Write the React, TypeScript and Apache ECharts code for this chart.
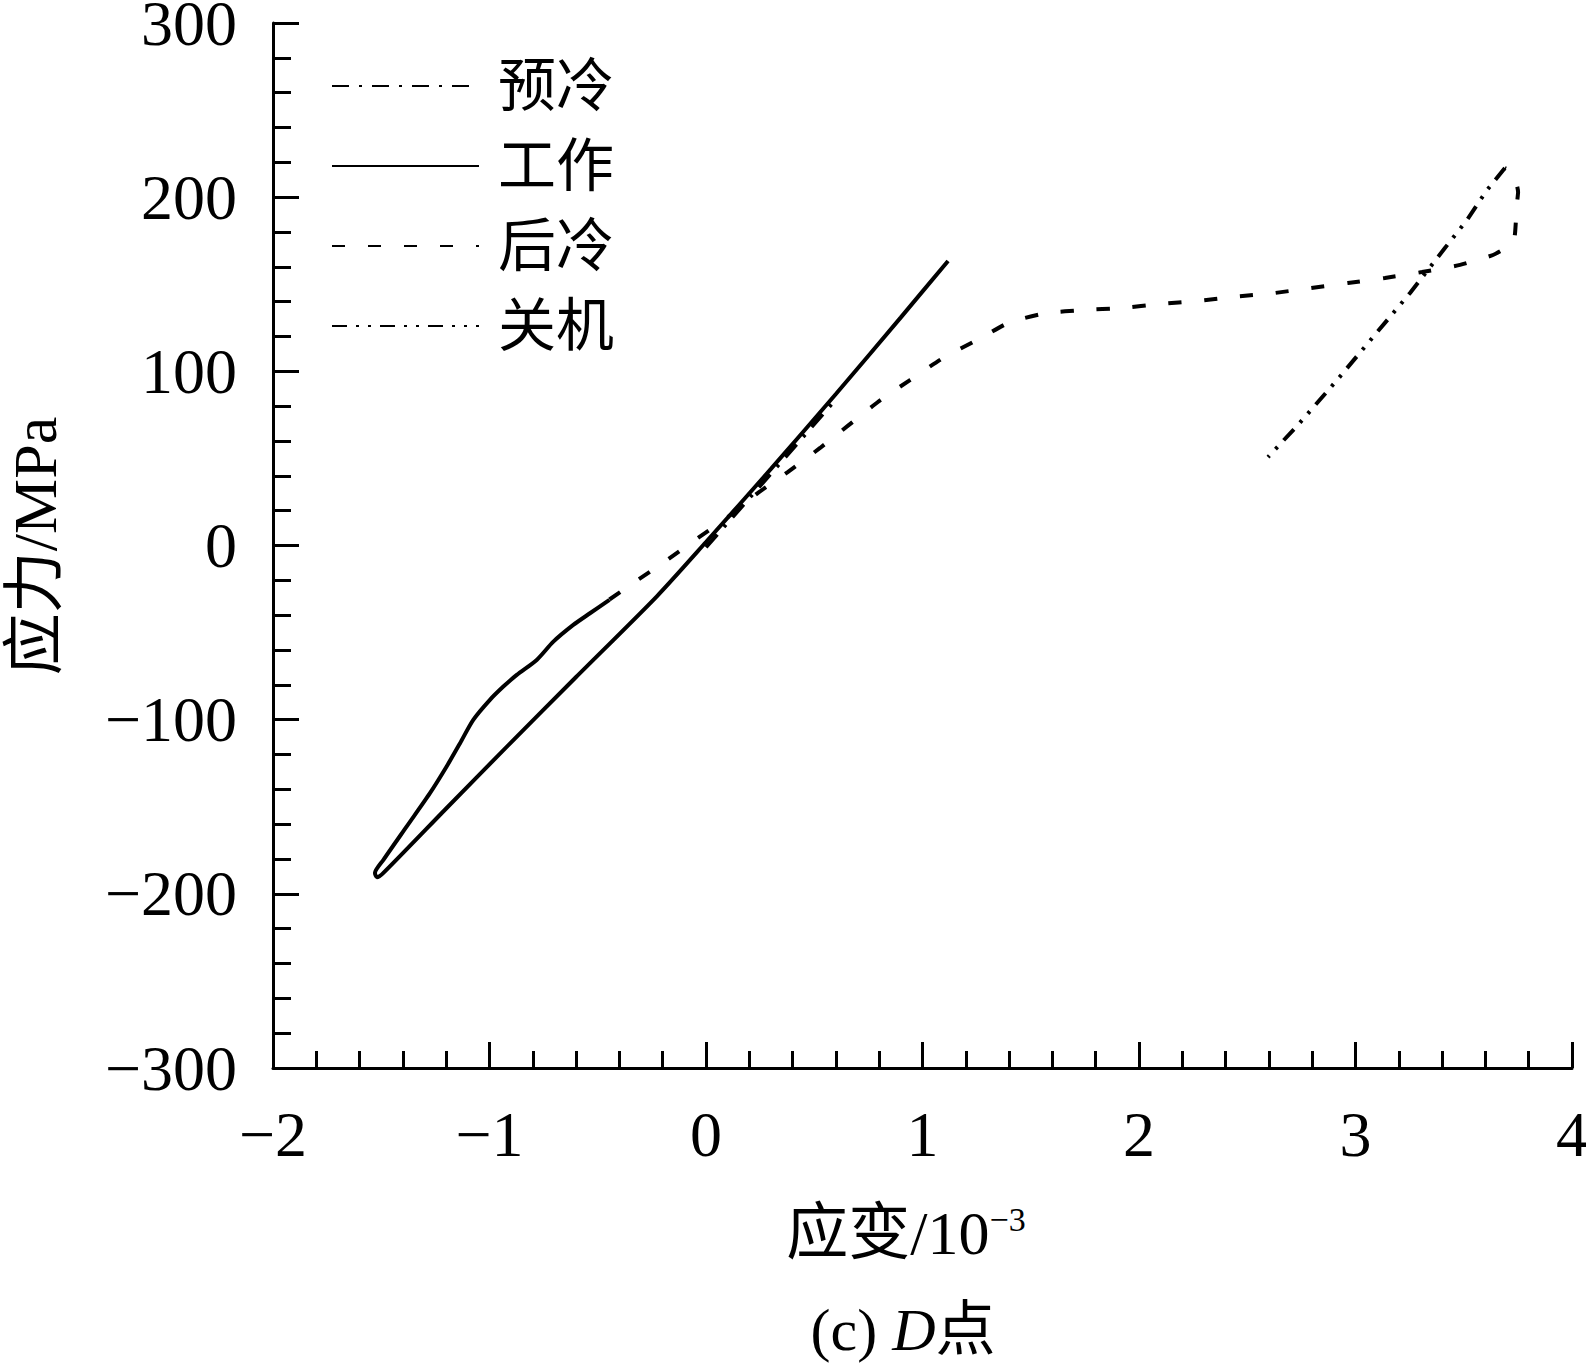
import React, { useEffect, useRef } from "react";
import * as echarts from "echarts";

// ---- data ----
const seriesNames = ["预冷", "工作", "后冷", "关机"];

const xTicks = { min: -2, max: 4, interval: 1 };
const yTicks = { min: -300, max: 300, interval: 100 };

// 预冷 (pre-cooling)
const preX = [0.0, 0.34, 0.6];
const preY = [-1, 47, 84];

// 工作 (working)
const workX = [
  -0.446, -0.536, -0.613, -0.705, -0.782, -0.874, -0.936, -0.998, -1.075, -1.136,
  -1.198, -1.275, -1.383, -1.49, -1.529, -1.52, -1.49, -1.2, -0.9, -0.6,
  -0.228, 0.0, 0.3, 0.6, 0.9, 1.118,
];
const workY = [
  -31.2, -38.9, -45.6, -55.2, -65.7, -74.3, -81.0, -88.6, -100.1, -113.5,
  -126.9, -142.2, -161.4, -180.5, -188.1, -190.5, -188, -151, -113, -75.5,
  -29.3, 2, 44, 87, 131, 163.4,
];

// 后冷 (post-cooling)
const postX = [
  -0.446, -0.328, -0.18, -0.037, 0.102, 0.24, 0.379, 0.527, 0.794, 0.942,
  1.095, 1.252, 1.404, 1.575, 1.741, 1.921, 2.097, 2.268, 2.434, 2.628,
  2.79, 2.965, 3.136, 3.307, 3.483, 3.635, 3.728, 3.737, 3.746, 3.751,
  3.728, 3.69,
];
const postY = [
  -31, -20.9, -8.3, 4.4, 16.4, 30.2, 42.3, 56, 82.4, 95,
  107.7, 118, 128.3, 133.5, 135.2, 136.3, 138.7, 140.4, 142.7, 145,
  147.8, 150.7, 153.6, 157, 161.1, 166.8, 173.7, 179.4, 196.6, 203,
  214.4, 216.7,
];

// 关机 (shutdown)
const offX = [3.69, 3.607, 3.515, 3.413, 3.252, 3.081, 2.915, 2.734, 2.596];
const offY = [216.7, 204, 186.9, 170.8, 145, 119.7, 95, 69.2, 50.8];

// ---- helpers ----
const zip = (xs: number[], ys: number[]) => xs.map((x, i) => [x, ys[i]]);
const fmt = (v: number) => (v < 0 ? "\u2212" + Math.abs(v) : String(v));

const SERIF = '"Liberation Serif", "Times New Roman", "Noto Sans CJK SC", serif';

const dashes: any[] = [
  [17, 10, 3, 10],
  "solid",
  [13, 23],
  [15, 9, 3, 9, 3, 9],
];
const smoothness = [0, 0.25, 0.15, 0];
const dataSets = [zip(preX, preY), zip(workX, workY), zip(postX, postY), zip(offX, offY)];

function buildOption() {
  const axisLineStyle = { color: "#000", width: 3 };
  return {
    animation: false,
    backgroundColor: "#fff",
    grid: {
      left: 273,
      right: 14,
      top: 23,
      bottom: 299,
      containLabel: false,
      outerBoundsMode: "none",
    },
    legend: {
      show: true,
      orient: "vertical",
      left: 326,
      top: 52,
      itemWidth: 147,
      itemHeight: 20,
      itemGap: 22,
      data: seriesNames,
      itemStyle: { opacity: 0 },
      textStyle: {
        color: "#000",
        fontSize: 58,
        lineHeight: 58,
        fontFamily: SERIF,
        padding: [0, 0, 0, 14],
      },
    },
    xAxis: {
      type: "value",
      min: xTicks.min,
      max: xTicks.max,
      interval: xTicks.interval,
      axisLine: { show: true, onZero: false, lineStyle: axisLineStyle },
      axisTick: { show: true, inside: true, length: 26, lineStyle: axisLineStyle },
      minorTick: { show: true, splitNumber: 5, length: 17, lineStyle: axisLineStyle },
      splitLine: { show: false },
      minorSplitLine: { show: false },
      axisLabel: {
        color: "#000",
        fontSize: 64,
        lineHeight: 50,
        fontFamily: SERIF,
        margin: 41,
        formatter: fmt,
      },
    },
    yAxis: {
      type: "value",
      min: yTicks.min,
      max: yTicks.max,
      interval: yTicks.interval,
      axisLine: { show: true, onZero: false, lineStyle: axisLineStyle },
      axisTick: { show: true, inside: true, length: 26, lineStyle: axisLineStyle },
      minorTick: { show: true, splitNumber: 5, length: 18, lineStyle: axisLineStyle },
      splitLine: { show: false },
      minorSplitLine: { show: false },
      axisLabel: {
        color: "#000",
        fontSize: 64,
        lineHeight: 46,
        fontFamily: SERIF,
        margin: 36,
        formatter: fmt,
      },
    },
    series: seriesNames.map((name, i) => ({
      name,
      type: "line",
      data: dataSets[i],
      symbol: "none",
      symbolSize: 0,
      showSymbol: false,
      smooth: smoothness[i],
      z: i === 1 ? 5 : 3,
      lineStyle: { color: "#000", width: 4, type: dashes[i], cap: "butt" },
      itemStyle: { color: "#000" },
    })),
    graphic: [
      {
        type: "text",
        x: 35,
        y: 546,
        rotation: Math.PI / 2,
        style: {
          text: "应力/MPa",
          font: `62px ${SERIF}`,
          fill: "#000",
          textAlign: "center",
          textVerticalAlign: "middle",
        },
      },
      {
        type: "text",
        x: 906,
        y: 1233,
        style: {
          text: "应变/10{sup|\u22123}",
          font: `62px ${SERIF}`,
          fill: "#000",
          textAlign: "center",
          textVerticalAlign: "middle",
          rich: {
            sup: { fontSize: 34, fontFamily: SERIF, verticalAlign: "top", fill: "#000" },
          },
        },
      },
      {
        type: "text",
        x: 903,
        y: 1330,
        style: {
          text: "(c) {i|D}点",
          font: `60px ${SERIF}`,
          fill: "#000",
          textAlign: "center",
          textVerticalAlign: "middle",
          rich: {
            i: { fontSize: 60, fontFamily: SERIF, fontStyle: "italic", fill: "#000" },
          },
        },
      },
    ],
  };
}

export default function App() {
  const ref = useRef<HTMLDivElement>(null);
  useEffect(() => {
    if (!ref.current) return;
    const chart = echarts.init(ref.current, null, { renderer: "svg" });
    chart.setOption(buildOption() as any);
    return () => chart.dispose();
  }, []);
  return (
    <div
      ref={ref}
      style={{ position: "absolute", left: 0, top: 0, width: 1586, height: 1367, background: "#fff" }}
    />
  );
}
